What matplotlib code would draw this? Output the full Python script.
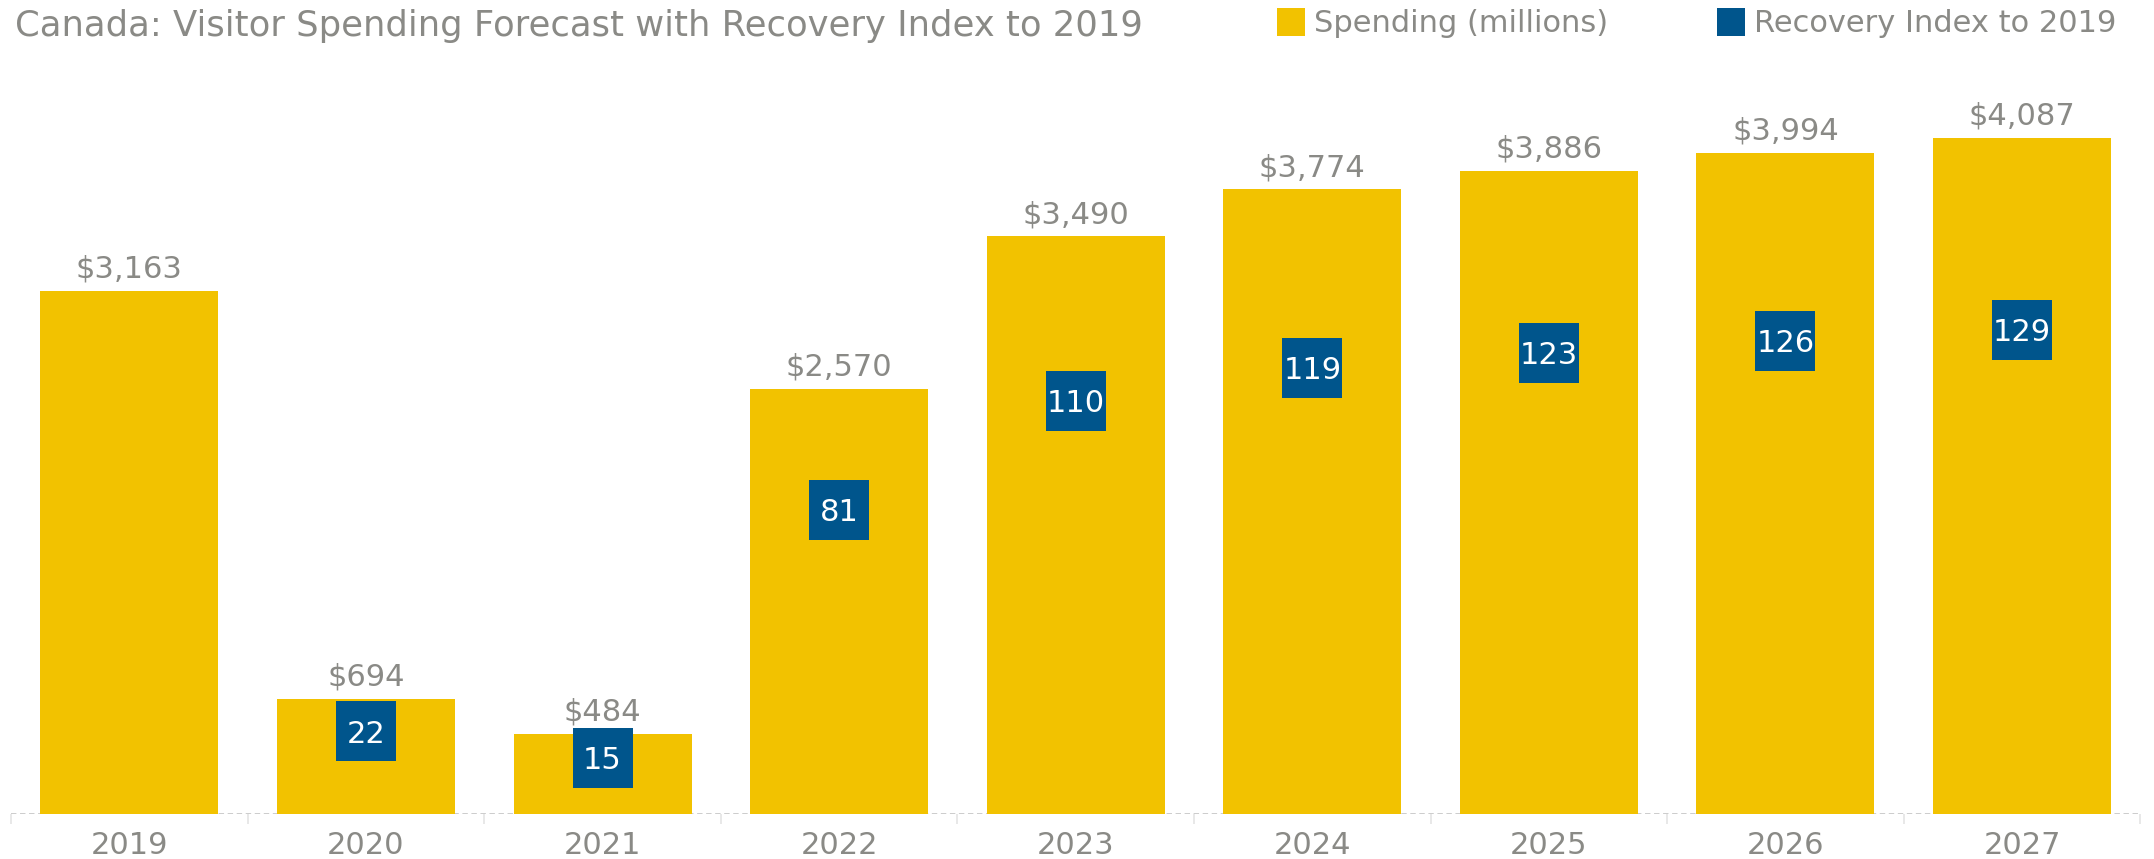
import numpy as np
import matplotlib
matplotlib.use("Agg")
from matplotlib import pyplot as plt
from matplotlib.patches import Patch

# data
years = ["2019", "2020", "2021", "2022", "2023", "2024", "2025", "2026", "2027"]
spending = [3163, 694, 484, 2570, 3490, 3774, 3886, 3994, 4087]
recovery = [None, 22, 15, 81, 110, 119, 123, 126, 129]

YELLOW = "#F2C200"
BLUE = "#00558C"
GREY = "#8a8a86"

plt.rcParams["font.family"] = ["DejaVu Sans"]
FS = 22

fig = plt.figure(figsize=(21.54, 8.59), dpi=100)
ax = fig.add_axes([0.00515, 0.0524, 0.9885, 0.8778])
ax2 = ax.twinx()

x = np.arange(len(years))
ax.bar(x, spending, width=0.752, color=YELLOW, zorder=2)
ax.set_xlim(-0.5, len(years) - 0.5)
ax.set_ylim(0, 4556)
ax2.set_ylim(0, 201)

# dollar labels above each bar
for xi, v in zip(x, spending):
    ax.annotate(f"${v:,}", (xi, v), xytext=(0, 9.5), textcoords="offset points",
                ha="center", va="baseline", fontsize=FS, color=GREY)

# recovery index boxes, placed on the secondary scale
box_h = 16
box_w = 0.2536
rx = [xi for xi, r in zip(x, recovery) if r is not None]
rv = np.array([r for r in recovery if r is not None], dtype=float)
ax2.bar(rx, box_h, width=box_w, bottom=rv - box_h / 2, color=BLUE, zorder=3)
for xi, r in zip(rx, rv):
    ax2.annotate(f"{int(r)}", (xi, r), xytext=(0, -8), textcoords="offset points",
                 ha="center", va="baseline", fontsize=FS, color="white", zorder=4)

# dashed baseline
ax.axhline(0, color="#c8c8c8", lw=1.3, ls=(0, (3, 2)), zorder=1)

for a in (ax, ax2):
    for s in a.spines.values():
        s.set_visible(False)
    a.set_yticks([])

ax.set_xticks(x, years)
ax.set_xticks(np.arange(-0.5, len(years)), minor=True)
ax.tick_params(axis="x", which="major", length=0, pad=12, labelsize=FS, labelcolor=GREY)
ax.tick_params(axis="x", which="minor", length=7, width=1.2, color="#e4e4e4")

fig.text(0.0068, 1 - 36 / 859, "Canada: Visitor Spending Forecast with Recovery Index to 2019",
         ha="left", va="baseline", fontsize=25.5, color=GREY)

handles = [Patch(facecolor=YELLOW, label="Spending (millions)"),
           Patch(facecolor=BLUE, label="Recovery Index to 2019")]
fig.legend(handles=handles, loc="upper left", bbox_to_anchor=(1277 / 2154, 1 - 8 / 859),
           ncol=2, frameon=False, borderpad=0, borderaxespad=0,
           handlelength=0.92, handleheight=1.03, handletextpad=0.3,
           columnspacing=3.55, fontsize=FS, labelcolor=GREY)

fig.savefig("out.png", dpi=100)
